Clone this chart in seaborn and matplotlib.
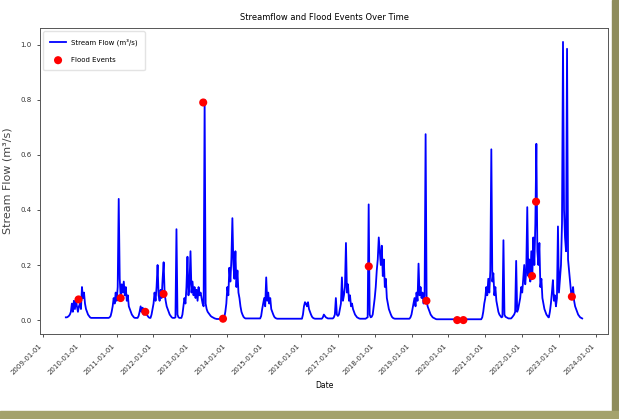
import matplotlib
matplotlib.use("Agg")
import matplotlib.pyplot as plt
import matplotlib.dates as mdates
from matplotlib.patches import Rectangle
import seaborn as sns
import pandas as pd

# ---- data (10-day steps inside each flow segment) ----
segment_starts = ["2009-08-16", "2010-10-14", "2011-07-28", "2011-12-03", "2012-07-27",
                  "2012-10-04", "2013-11-13", "2014-11-23", "2016-01-11", "2016-07-26",
                  "2016-11-12", "2017-10-03", "2018-12-11", "2020-11-21", "2021-09-13",
                  "2022-09-22"]

seg_a = [0.01, 0.01, 0.012, 0.015, 0.02, 0.03, 0.06, 0.03, 0.07, 0.04, 0.075, 0.05, 0.03,
         0.05, 0.06, 0.04, 0.12, 0.08, 0.1, 0.06, 0.04, 0.03, 0.02, 0.015, 0.01, 0.008]
seg_b = [0.008, 0.01, 0.015, 0.03, 0.05, 0.08, 0.06, 0.1, 0.07, 0.12, 0.44, 0.15, 0.08,
         0.13, 0.1, 0.14, 0.09, 0.12, 0.07, 0.09, 0.05, 0.04, 0.03, 0.02, 0.015, 0.01, 0.008]
seg_c = [0.008, 0.015, 0.03, 0.05, 0.03, 0.045, 0.02, 0.04, 0.03, 0.02, 0.015, 0.01, 0.008]
seg_d = [0.008, 0.02, 0.04, 0.06, 0.1, 0.07, 0.12, 0.2, 0.09, 0.07, 0.11, 0.08, 0.15,
         0.21, 0.095, 0.07, 0.05, 0.04, 0.03, 0.02, 0.015, 0.01, 0.008]
seg_e = [0.008, 0.01, 0.33, 0.02, 0.01, 0.008]
seg_f = [0.008, 0.02, 0.05, 0.08, 0.06, 0.12, 0.23, 0.09, 0.13, 0.25, 0.1, 0.14, 0.09,
         0.12, 0.08, 0.11, 0.07, 0.12, 0.09, 0.1, 0.08, 0.06, 0.05, 0.80, 0.06, 0.04,
         0.03, 0.025, 0.02, 0.015, 0.012, 0.01, 0.008, 0.006, 0.005, 0.004]
seg_g = [0.004, 0.005, 0.01, 0.03, 0.06, 0.12, 0.09, 0.19, 0.14, 0.22, 0.37, 0.2, 0.15,
         0.25, 0.12, 0.18, 0.1, 0.08, 0.05, 0.03, 0.02, 0.012, 0.008, 0.006]
seg_h = [0.006, 0.015, 0.04, 0.06, 0.08, 0.05, 0.155, 0.07, 0.1, 0.06, 0.08, 0.04, 0.03,
         0.02, 0.012, 0.008, 0.006, 0.005, 0.005]
seg_i = [0.005, 0.02, 0.05, 0.065, 0.06, 0.05, 0.065, 0.04, 0.03, 0.02, 0.012, 0.008,
         0.006, 0.005, 0.005]
seg_j = [0.005, 0.01, 0.02, 0.015, 0.01, 0.008, 0.006]
seg_k = [0.006, 0.01, 0.02, 0.08, 0.02, 0.015, 0.02, 0.04, 0.06, 0.155, 0.07, 0.09, 0.12,
         0.28, 0.1, 0.13, 0.07, 0.09, 0.05, 0.06, 0.04, 0.03, 0.02, 0.015, 0.01, 0.008,
         0.006, 0.005]
seg_l = [0.005, 0.008, 0.01, 0.42, 0.02, 0.01, 0.012, 0.02, 0.05, 0.08, 0.12, 0.18, 0.22,
         0.3, 0.25, 0.2, 0.27, 0.16, 0.22, 0.12, 0.15, 0.08, 0.06, 0.04, 0.03, 0.02, 0.012,
         0.008, 0.006, 0.005]
seg_m = [0.005, 0.01, 0.02, 0.04, 0.06, 0.08, 0.05, 0.1, 0.07, 0.205, 0.09, 0.12, 0.08,
         0.1, 0.06, 0.09, 0.675, 0.07, 0.05, 0.04, 0.03, 0.02, 0.015, 0.01, 0.008, 0.006,
         0.004, 0.003]
seg_n = [0.003, 0.01, 0.03, 0.06, 0.08, 0.12, 0.09, 0.15, 0.1, 0.18, 0.62, 0.14, 0.17,
         0.09, 0.12, 0.07, 0.05, 0.03, 0.02, 0.015, 0.01, 0.012, 0.29, 0.02, 0.012, 0.01,
         0.008, 0.006]
seg_o = [0.006, 0.01, 0.015, 0.02, 0.03, 0.215, 0.03, 0.04, 0.06, 0.08, 0.12, 0.1, 0.15,
         0.2, 0.13, 0.18, 0.41, 0.16, 0.22, 0.14, 0.25, 0.16, 0.3, 0.2, 0.35, 0.64, 0.25,
         0.2, 0.28, 0.12, 0.15, 0.08, 0.06, 0.04, 0.03, 0.02, 0.015, 0.01]
seg_p = [0.01, 0.03, 0.06, 0.1, 0.145, 0.07, 0.09, 0.05, 0.08, 0.34, 0.1, 0.15, 0.2, 0.35,
         1.01, 0.4, 0.3, 0.25, 0.985, 0.22, 0.18, 0.14, 0.1, 0.085, 0.12, 0.07, 0.05, 0.04,
         0.03, 0.02, 0.015, 0.01, 0.008, 0.006]
segment_values = [seg_a, seg_b, seg_c, seg_d, seg_e, seg_f, seg_g, seg_h, seg_i, seg_j,
                  seg_k, seg_l, seg_m, seg_n, seg_o, seg_p]

flood_dates = ["2009-12-20", "2011-02-10", "2011-10-12", "2012-04-10", "2013-05-08",
               "2013-11-20", "2017-11-03", "2019-05-28", "2020-03-28", "2020-05-28",
               "2022-04-08", "2022-05-18", "2023-05-08"]
flood_values = [0.075, 0.08, 0.03, 0.095, 0.79, 0.005, 0.195, 0.07, 0.0, 0.0,
                0.16, 0.43, 0.085]

# ---- build frames ----
frames = []
for start, vals in zip(segment_starts, segment_values):
    d = pd.date_range(start, periods=len(vals), freq="10D")
    frames.append(pd.DataFrame({"date": d, "flow": vals}))
flow_df = pd.concat(frames, ignore_index=True).sort_values("date")
flood_df = pd.DataFrame({"date": pd.to_datetime(flood_dates), "flow": flood_values})

# ---- plot ----
fig = plt.figure(figsize=(6.19, 4.19), dpi=100)
ax = fig.add_axes([40 / 619, 1 - 334 / 419, (608 - 40) / 619, (334 - 28) / 419])

sns.lineplot(data=flow_df, x="date", y="flow", ax=ax, color="blue", linewidth=1.3,
             estimator=None, label="Stream Flow (m³/s)")
sns.scatterplot(data=flood_df, x="date", y="flow", ax=ax, color="red", s=34,
                edgecolor="none", zorder=3, label="Flood Events")

ax.xaxis.set_major_locator(mdates.YearLocator())
ax.xaxis.set_major_formatter(mdates.DateFormatter("%Y-%m-%d"))
plt.setp(ax.get_xticklabels(), rotation=45, ha="right")
ax.tick_params(labelsize=5, length=2.5, width=0.6, colors="#333333")
for s in ax.spines.values():
    s.set_linewidth(0.7)
    s.set_color("#555555")

ax.set_title("Streamflow and Flood Events Over Time", fontsize=6, pad=6)
ax.set_xlabel("Date", fontsize=5.5, labelpad=4)
ax.set_ylabel("Stream Flow (m³/s)", fontsize=8, labelpad=6, color="#444444")
ax.legend(loc="upper left", fontsize=5, frameon=True, framealpha=0.8,
          edgecolor="#dddddd", borderpad=1.0, labelspacing=1.6, handlelength=2.2)

# olive frame on right and bottom of the reference picture
fig.patches.append(Rectangle((612 / 619, 0), 7 / 619, 1, transform=fig.transFigure,
                             color="#8e8c5c", zorder=10))
fig.patches.append(Rectangle((0, 0), 1, 8 / 419, transform=fig.transFigure,
                             color="#a4a26c", zorder=10))

fig.savefig("out.png", dpi=100)
